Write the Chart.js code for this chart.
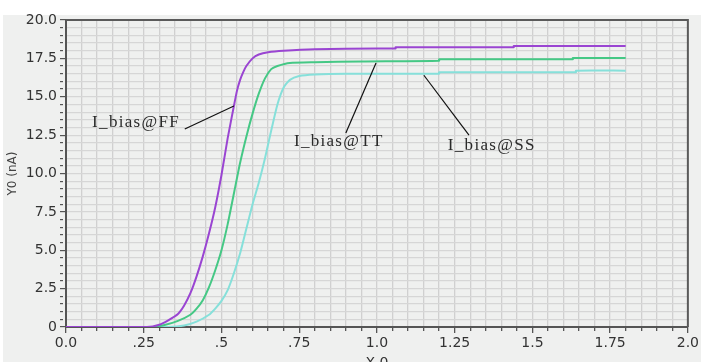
<!DOCTYPE html>
<html>
<head>
<meta charset="utf-8">
<script src="https://cdn.jsdelivr.net/npm/chart.js@4"></script>
<style>
  html, body { margin: 0; padding: 0; background: #ffffff; overflow: hidden; }
  #wrap { width: 701px; height: 372px; }
</style>
</head>
<body>
<div id="wrap"><canvas id="biasChart" width="701" height="372"></canvas></div>
<script>
// curve samples (x in V, y in nA)
const ffX = [0, 0.26, 0.30, 0.33, 0.36, 0.38, 0.40, 0.42, 0.44, 0.46, 0.48, 0.50, 0.52, 0.54, 0.55, 0.56, 0.57, 0.58, 0.60, 0.62, 0.65, 0.70, 0.80, 1.00, 1.06, 1.06, 1.44, 1.44, 1.80];
const ffY = [0, 0, 0.15, 0.45, 0.85, 1.4, 2.2, 3.3, 4.6, 6.1, 7.8, 9.9, 12.3, 14.4, 15.4, 16.1, 16.6, 17.0, 17.5, 17.75, 17.9, 18.0, 18.1, 18.15, 18.15, 18.22, 18.22, 18.3, 18.3];

const ttX = [0, 0.28, 0.32, 0.36, 0.40, 0.42, 0.44, 0.46, 0.48, 0.50, 0.52, 0.54, 0.56, 0.58, 0.60, 0.62, 0.64, 0.66, 0.68, 0.72, 0.80, 0.95, 1.20, 1.20, 1.63, 1.63, 1.80];
const ttY = [0, 0, 0.15, 0.4, 0.8, 1.2, 1.75, 2.6, 3.7, 5.0, 6.7, 8.7, 10.7, 12.4, 13.9, 15.2, 16.2, 16.8, 17.0, 17.2, 17.25, 17.3, 17.35, 17.44, 17.44, 17.52, 17.52];

const ssX = [0, 0.33, 0.38, 0.42, 0.46, 0.48, 0.50, 0.52, 0.54, 0.56, 0.58, 0.60, 0.62, 0.64, 0.66, 0.68, 0.70, 0.72, 0.75, 0.80, 0.90, 1.20, 1.20, 1.64, 1.64, 1.80];
const ssY = [0, 0, 0.1, 0.35, 0.8, 1.2, 1.7, 2.4, 3.5, 4.8, 6.4, 8.0, 9.4, 11.0, 12.8, 14.5, 15.6, 16.1, 16.35, 16.45, 16.5, 16.5, 16.6, 16.6, 16.7, 16.7];

const seriesNames = ['I_bias@FF', 'I_bias@TT', 'I_bias@SS'];

const xTickLabels = ['0.0', '.25', '.5', '.75', '1.0', '1.25', '1.5', '1.75', '2.0'];
const yTickLabels = ['0', '2.5', '5.0', '7.5', '10.0', '12.5', '15.0', '17.5', '20.0'];

// label callouts: [text x, text y, line start x, y, line end x, y] in data units
const callouts = [
    [0.084, 13.3, 0.382, 12.9, 0.54, 14.4],
    [0.733, 12.1, 0.90, 12.64, 0.997, 17.2],
    [1.228, 11.85, 1.151, 16.4, 1.296, 12.5]
];

function toPoints(xs, ys) {
    return xs.map((x, i) => ({ x: x, y: ys[i] }));
}

const panelBg = {
    id: 'panelBg',
    beforeDraw(chart) {
        const c = chart.ctx;
        c.save();
        c.fillStyle = '#ffffff';
        c.fillRect(0, 0, chart.width, chart.height);
        c.fillStyle = '#eff0ef';
        c.fillRect(3, 15, chart.width - 3, chart.height - 15);
        c.restore();
    },
    afterDraw(chart) {
        const a = chart.chartArea;
        const c = chart.ctx;
        c.save();
        c.strokeStyle = '#5a5a5a';
        c.lineWidth = 2;
        c.beginPath();
        c.moveTo(a.left, a.top);
        c.lineTo(a.right, a.top);
        c.lineTo(a.right, a.bottom);
        c.stroke();
        c.restore();
    }
};

const calloutPlugin = {
    id: 'callouts',
    afterDatasetsDraw(chart) {
        const sx = chart.scales.x, sy = chart.scales.y;
        const c = chart.ctx;
        c.save();
        c.strokeStyle = '#111';
        c.lineWidth = 1.2;
        c.fillStyle = '#2a2a2a';
        c.font = '17px "Liberation Serif"';
        c.letterSpacing = '1.3px';
        c.textBaseline = 'middle';
        c.textAlign = 'left';
        callouts.forEach((o, i) => {
            c.beginPath();
            c.moveTo(sx.getPixelForValue(o[2]), sy.getPixelForValue(o[3]));
            c.lineTo(sx.getPixelForValue(o[4]), sy.getPixelForValue(o[5]));
            c.stroke();
            c.fillText(seriesNames[i], sx.getPixelForValue(o[0]), sy.getPixelForValue(o[1]));
        });
        c.restore();
    }
};

const tickFont = { family: 'DejaVu Sans', size: 14 };

new Chart(document.getElementById('biasChart').getContext('2d'), {
    type: 'line',
    data: {
        datasets: [
            { label: seriesNames[0], data: toPoints(ffX, ffY), borderColor: '#9a45d2', borderWidth: 2 },
            { label: seriesNames[1], data: toPoints(ttX, ttY), borderColor: '#45c885', borderWidth: 2 },
            { label: seriesNames[2], data: toPoints(ssX, ssY), borderColor: '#86e0da', borderWidth: 2 }
        ]
    },
    options: {
        responsive: false,
        animation: false,
        events: [],
        elements: { point: { radius: 0 }, line: { tension: 0.2 } },
        layout: { padding: { top: 20, right: 12, left: 0, bottom: 0 } },
        plugins: { legend: { display: false }, tooltip: { enabled: false } },
        scales: {
            x: {
                type: 'linear',
                min: 0,
                max: 2,
                afterFit(scale) { scale.height = 45; },
                border: { color: '#555', width: 2 },
                grid: {
                    color: '#d0d0d0',
                    lineWidth: 1.3,
                    tickColor: '#555',
                    tickLength: 6,
                    tickBorderDash: (ctx) => (ctx.index % 5 === 0 ? [] : [3, 3])
                },
                ticks: {
                    stepSize: 0.05,
                    maxTicksLimit: 100,
                    autoSkip: false,
                    maxRotation: 0,
                    padding: 2,
                    color: '#333',
                    font: tickFont,
                    callback: (v, i) => (i % 5 === 0 ? xTickLabels[i / 5] : '')
                },
                title: { display: true, text: 'X 0', color: '#333', font: { family: 'DejaVu Sans', size: 14 }, padding: { top: 0, bottom: 0 } }
            },
            y: {
                type: 'linear',
                min: 0,
                max: 20,
                afterFit(scale) { scale.width = 66; },
                border: { color: '#555', width: 2 },
                grid: {
                    color: '#d6d6d6',
                    lineWidth: 1.2,
                    tickColor: '#555',
                    tickLength: 6,
                    tickBorderDash: (ctx) => (ctx.index % 5 === 0 ? [] : [3, 3])
                },
                ticks: {
                    stepSize: 0.5,
                    maxTicksLimit: 100,
                    autoSkip: false,
                    padding: 3,
                    color: '#333',
                    font: tickFont,
                    callback: (v, i) => (i % 5 === 0 ? yTickLabels[i / 5] : '')
                },
                title: { display: true, text: 'Y0 (nA)', color: '#444', font: { family: 'DejaVu Sans', size: 12 }, padding: { top: 6, bottom: 0 } }
            }
        }
    },
    plugins: [panelBg, calloutPlugin]
});
</script>
</body>
</html>
